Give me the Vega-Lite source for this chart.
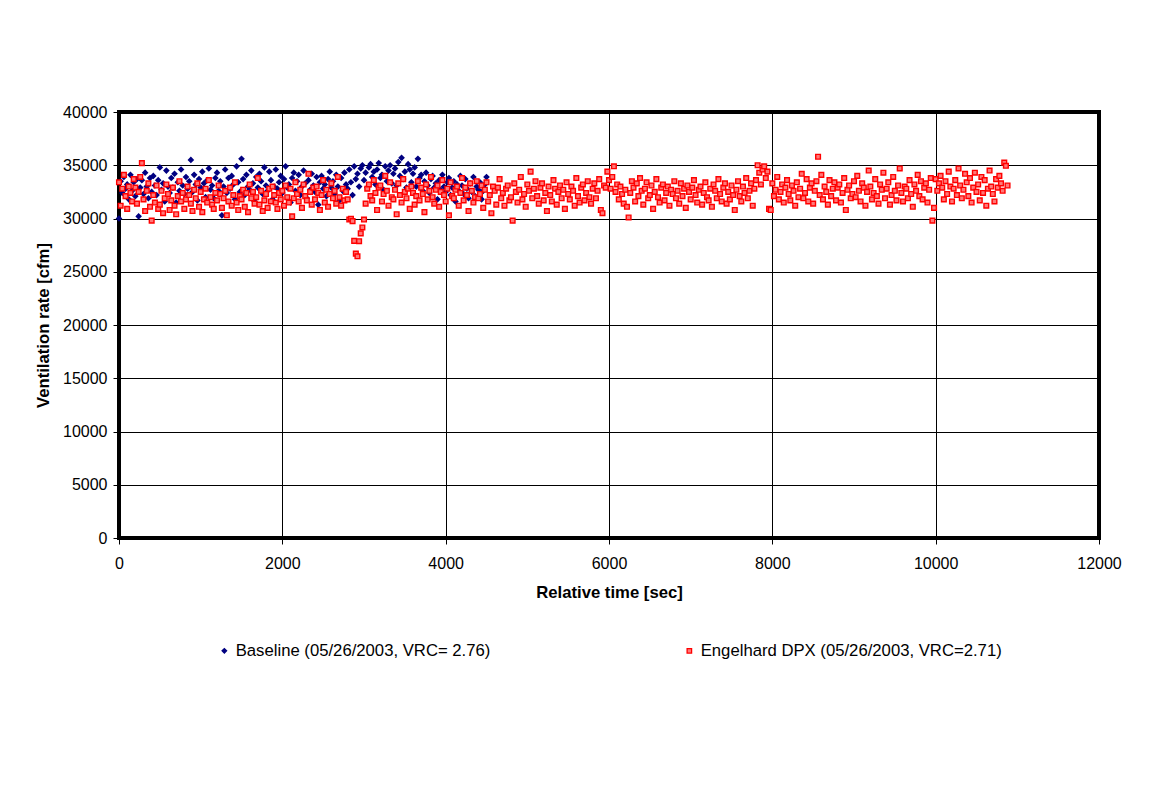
{
"$schema": "https://vega.github.io/schema/vega-lite/v6.json",
"width": 980,
"height": 426,
"autosize": {"type": "none"},
"padding": {"left": 119, "top": 112, "right": 55, "bottom": 252},
"background": "white",
"config": {
"font": "Liberation Sans",
"view": {"stroke": "black", "strokeWidth": 4},
"axis": {"labelFont": "Liberation Sans", "labelFontSize": 16, "labelColor": "black", "titleFont": "Liberation Sans", "titleFontSize": 16.7, "titleFontWeight": "bold", "titleColor": "black", "gridColor": "black", "gridWidth": 1, "gridOpacity": 1, "tickColor": "black", "tickWidth": 1, "tickSize": 6, "domain": false}
},
"data": {"values": [
{"s":"B","t":0,"v":30000},{"s":"B","t":20,"v":33500},{"s":"B","t":40,"v":32400},{"s":"B","t":60,"v":33900},{"s":"B","t":80,"v":32800},{"s":"B","t":100,"v":33200},{"s":"B","t":120,"v":31800},{"s":"B","t":140,"v":34100},{"s":"B","t":160,"v":32600},{"s":"B","t":180,"v":33400},
{"s":"B","t":200,"v":32100},{"s":"B","t":220,"v":33700},{"s":"B","t":240,"v":30200},{"s":"B","t":260,"v":32900},{"s":"B","t":280,"v":33600},{"s":"B","t":300,"v":32300},{"s":"B","t":320,"v":34300},{"s":"B","t":340,"v":33000},{"s":"B","t":360,"v":31900},{"s":"B","t":380,"v":33800},
{"s":"B","t":400,"v":32500},{"s":"B","t":420,"v":34000},{"s":"B","t":440,"v":33100},{"s":"B","t":460,"v":32200},{"s":"B","t":480,"v":33600},{"s":"B","t":500,"v":34800},{"s":"B","t":520,"v":32700},{"s":"B","t":540,"v":33300},{"s":"B","t":560,"v":31600},{"s":"B","t":580,"v":34500},
{"s":"B","t":600,"v":33000},{"s":"B","t":620,"v":32400},{"s":"B","t":640,"v":33800},{"s":"B","t":660,"v":32900},{"s":"B","t":680,"v":34200},{"s":"B","t":700,"v":31500},{"s":"B","t":720,"v":33400},{"s":"B","t":740,"v":32600},{"s":"B","t":760,"v":34600},{"s":"B","t":780,"v":33100},
{"s":"B","t":800,"v":32300},{"s":"B","t":820,"v":33900},{"s":"B","t":840,"v":32800},{"s":"B","t":860,"v":33500},{"s":"B","t":880,"v":35500},{"s":"B","t":900,"v":32500},{"s":"B","t":920,"v":34100},{"s":"B","t":940,"v":33200},{"s":"B","t":960,"v":31700},{"s":"B","t":980,"v":33700},
{"s":"B","t":1000,"v":32900},{"s":"B","t":1020,"v":34400},{"s":"B","t":1040,"v":33300},{"s":"B","t":1060,"v":32000},{"s":"B","t":1080,"v":33600},{"s":"B","t":1100,"v":34700},{"s":"B","t":1120,"v":32700},{"s":"B","t":1140,"v":33100},{"s":"B","t":1160,"v":31900},{"s":"B","t":1180,"v":33800},
{"s":"B","t":1200,"v":34300},{"s":"B","t":1220,"v":32600},{"s":"B","t":1240,"v":33500},{"s":"B","t":1260,"v":30300},{"s":"B","t":1280,"v":33000},{"s":"B","t":1300,"v":34600},{"s":"B","t":1320,"v":32400},{"s":"B","t":1340,"v":33800},{"s":"B","t":1360,"v":32800},{"s":"B","t":1380,"v":34000},
{"s":"B","t":1400,"v":33200},{"s":"B","t":1420,"v":31800},{"s":"B","t":1440,"v":34900},{"s":"B","t":1460,"v":33400},{"s":"B","t":1480,"v":32500},{"s":"B","t":1500,"v":35600},{"s":"B","t":1520,"v":33700},{"s":"B","t":1540,"v":32200},{"s":"B","t":1560,"v":34100},{"s":"B","t":1580,"v":33000},
{"s":"B","t":1600,"v":32700},{"s":"B","t":1620,"v":34500},{"s":"B","t":1640,"v":33300},{"s":"B","t":1660,"v":31600},{"s":"B","t":1680,"v":33900},{"s":"B","t":1700,"v":32900},{"s":"B","t":1720,"v":34200},{"s":"B","t":1740,"v":33500},{"s":"B","t":1760,"v":32300},{"s":"B","t":1780,"v":34800},
{"s":"B","t":1800,"v":33100},{"s":"B","t":1820,"v":32600},{"s":"B","t":1840,"v":34400},{"s":"B","t":1860,"v":33600},{"s":"B","t":1880,"v":31800},{"s":"B","t":1900,"v":33000},{"s":"B","t":1920,"v":34600},{"s":"B","t":1940,"v":32800},{"s":"B","t":1960,"v":33400},{"s":"B","t":1980,"v":34000},
{"s":"B","t":2000,"v":32400},{"s":"B","t":2020,"v":33700},{"s":"B","t":2040,"v":34900},{"s":"B","t":2060,"v":32900},{"s":"B","t":2080,"v":33200},{"s":"B","t":2100,"v":31500},{"s":"B","t":2120,"v":33800},{"s":"B","t":2140,"v":34300},{"s":"B","t":2160,"v":32600},{"s":"B","t":2180,"v":33500},
{"s":"B","t":2200,"v":34100},{"s":"B","t":2220,"v":32200},{"s":"B","t":2240,"v":33000},{"s":"B","t":2260,"v":34500},{"s":"B","t":2280,"v":33300},{"s":"B","t":2300,"v":31900},{"s":"B","t":2320,"v":33600},{"s":"B","t":2340,"v":32700},{"s":"B","t":2360,"v":34200},{"s":"B","t":2380,"v":33100},
{"s":"B","t":2400,"v":32500},{"s":"B","t":2420,"v":33900},{"s":"B","t":2440,"v":31300},{"s":"B","t":2460,"v":33400},{"s":"B","t":2480,"v":34000},{"s":"B","t":2500,"v":32800},{"s":"B","t":2520,"v":33200},{"s":"B","t":2540,"v":32100},{"s":"B","t":2560,"v":33700},{"s":"B","t":2580,"v":34400},
{"s":"B","t":2600,"v":32900},{"s":"B","t":2620,"v":33500},{"s":"B","t":2640,"v":32300},{"s":"B","t":2660,"v":34100},{"s":"B","t":2680,"v":33000},{"s":"B","t":2700,"v":31700},{"s":"B","t":2720,"v":33800},{"s":"B","t":2740,"v":32600},{"s":"B","t":2760,"v":34300},{"s":"B","t":2780,"v":33200},
{"s":"B","t":2800,"v":32800},{"s":"B","t":2820,"v":34600},{"s":"B","t":2840,"v":33400},{"s":"B","t":2860,"v":32200},{"s":"B","t":2880,"v":34900},{"s":"B","t":2900,"v":33700},{"s":"B","t":2920,"v":34200},{"s":"B","t":2940,"v":33000},{"s":"B","t":2960,"v":34700},{"s":"B","t":2980,"v":35000},
{"s":"B","t":3000,"v":33600},{"s":"B","t":3020,"v":34300},{"s":"B","t":3040,"v":32900},{"s":"B","t":3060,"v":34800},{"s":"B","t":3080,"v":35100},{"s":"B","t":3100,"v":33900},{"s":"B","t":3120,"v":34400},{"s":"B","t":3140,"v":33200},{"s":"B","t":3160,"v":34600},{"s":"B","t":3180,"v":35200},
{"s":"B","t":3200,"v":33800},{"s":"B","t":3220,"v":34100},{"s":"B","t":3240,"v":32700},{"s":"B","t":3260,"v":34900},{"s":"B","t":3280,"v":33500},{"s":"B","t":3300,"v":34500},{"s":"B","t":3320,"v":35000},{"s":"B","t":3340,"v":33300},{"s":"B","t":3360,"v":34200},{"s":"B","t":3380,"v":34700},
{"s":"B","t":3400,"v":33100},{"s":"B","t":3420,"v":35300},{"s":"B","t":3440,"v":34000},{"s":"B","t":3460,"v":35700},{"s":"B","t":3480,"v":33700},{"s":"B","t":3500,"v":34400},{"s":"B","t":3520,"v":32900},{"s":"B","t":3540,"v":35100},{"s":"B","t":3560,"v":34600},{"s":"B","t":3580,"v":33400},
{"s":"B","t":3600,"v":34200},{"s":"B","t":3620,"v":34800},{"s":"B","t":3640,"v":33000},{"s":"B","t":3660,"v":35600},{"s":"B","t":3680,"v":33800},{"s":"B","t":3700,"v":34100},{"s":"B","t":3720,"v":32600},{"s":"B","t":3740,"v":33500},{"s":"B","t":3760,"v":34300},{"s":"B","t":3780,"v":33100},
{"s":"B","t":3800,"v":32400},{"s":"B","t":3820,"v":33700},{"s":"B","t":3840,"v":34000},{"s":"B","t":3860,"v":32900},{"s":"B","t":3880,"v":33300},{"s":"B","t":3900,"v":31800},{"s":"B","t":3920,"v":33600},{"s":"B","t":3940,"v":32700},{"s":"B","t":3960,"v":34100},{"s":"B","t":3980,"v":33000},
{"s":"B","t":4000,"v":32500},{"s":"B","t":4020,"v":33400},{"s":"B","t":4040,"v":33800},{"s":"B","t":4060,"v":32200},{"s":"B","t":4080,"v":32900},{"s":"B","t":4100,"v":33500},{"s":"B","t":4120,"v":31600},{"s":"B","t":4140,"v":33200},{"s":"B","t":4160,"v":32600},{"s":"B","t":4180,"v":34000},
{"s":"B","t":4200,"v":33100},{"s":"B","t":4220,"v":32300},{"s":"B","t":4240,"v":33700},{"s":"B","t":4260,"v":32800},{"s":"B","t":4280,"v":31900},{"s":"B","t":4300,"v":33300},{"s":"B","t":4320,"v":32500},{"s":"B","t":4340,"v":33900},{"s":"B","t":4360,"v":32100},{"s":"B","t":4380,"v":33000},
{"s":"B","t":4400,"v":32700},{"s":"B","t":4420,"v":33400},{"s":"B","t":4440,"v":31800},{"s":"B","t":4460,"v":32600},{"s":"B","t":4480,"v":33200},{"s":"B","t":4500,"v":33900},
{"s":"E","t":0,"v":33400},{"s":"E","t":20,"v":31200},{"s":"E","t":40,"v":32800},{"s":"E","t":60,"v":34100},{"s":"E","t":80,"v":32100},{"s":"E","t":100,"v":30900},{"s":"E","t":120,"v":33000},{"s":"E","t":140,"v":32400},{"s":"E","t":160,"v":31600},{"s":"E","t":180,"v":33700},
{"s":"E","t":200,"v":32900},{"s":"E","t":220,"v":31400},{"s":"E","t":240,"v":32500},{"s":"E","t":260,"v":33900},{"s":"E","t":280,"v":35200},{"s":"E","t":300,"v":31800},{"s":"E","t":320,"v":30700},{"s":"E","t":340,"v":32600},{"s":"E","t":360,"v":33300},{"s":"E","t":380,"v":31100},
{"s":"E","t":400,"v":29800},{"s":"E","t":420,"v":32200},{"s":"E","t":440,"v":31500},{"s":"E","t":460,"v":33100},{"s":"E","t":480,"v":30900},{"s":"E","t":500,"v":31300},{"s":"E","t":520,"v":32600},{"s":"E","t":540,"v":30500},{"s":"E","t":560,"v":31900},{"s":"E","t":580,"v":33200},
{"s":"E","t":600,"v":32300},{"s":"E","t":620,"v":30800},{"s":"E","t":640,"v":31700},{"s":"E","t":660,"v":32900},{"s":"E","t":680,"v":31200},{"s":"E","t":700,"v":30400},{"s":"E","t":720,"v":32100},{"s":"E","t":740,"v":33500},{"s":"E","t":760,"v":31600},{"s":"E","t":780,"v":32400},
{"s":"E","t":800,"v":30900},{"s":"E","t":820,"v":31800},{"s":"E","t":840,"v":33000},{"s":"E","t":860,"v":32200},{"s":"E","t":880,"v":31400},{"s":"E","t":900,"v":30700},{"s":"E","t":920,"v":32700},{"s":"E","t":940,"v":31900},{"s":"E","t":960,"v":33300},{"s":"E","t":980,"v":31100},
{"s":"E","t":1000,"v":32500},{"s":"E","t":1020,"v":30600},{"s":"E","t":1040,"v":31800},{"s":"E","t":1060,"v":32800},{"s":"E","t":1080,"v":31500},{"s":"E","t":1100,"v":33600},{"s":"E","t":1120,"v":32000},{"s":"E","t":1140,"v":31300},{"s":"E","t":1160,"v":30900},{"s":"E","t":1180,"v":32400},
{"s":"E","t":1200,"v":31700},{"s":"E","t":1220,"v":33100},{"s":"E","t":1240,"v":32300},{"s":"E","t":1260,"v":31000},{"s":"E","t":1280,"v":31900},{"s":"E","t":1300,"v":32600},{"s":"E","t":1320,"v":30300},{"s":"E","t":1340,"v":31600},{"s":"E","t":1360,"v":32900},{"s":"E","t":1380,"v":31200},
{"s":"E","t":1400,"v":32200},{"s":"E","t":1420,"v":33400},{"s":"E","t":1440,"v":31500},{"s":"E","t":1460,"v":30800},{"s":"E","t":1480,"v":32100},{"s":"E","t":1500,"v":31800},{"s":"E","t":1520,"v":32700},{"s":"E","t":1540,"v":31100},{"s":"E","t":1560,"v":32400},{"s":"E","t":1580,"v":30600},
{"s":"E","t":1600,"v":33200},{"s":"E","t":1620,"v":31900},{"s":"E","t":1640,"v":32500},{"s":"E","t":1660,"v":31400},{"s":"E","t":1680,"v":32000},{"s":"E","t":1700,"v":33800},{"s":"E","t":1720,"v":31300},{"s":"E","t":1740,"v":32600},{"s":"E","t":1760,"v":30700},{"s":"E","t":1780,"v":31700},
{"s":"E","t":1800,"v":32300},{"s":"E","t":1820,"v":31000},{"s":"E","t":1840,"v":32800},{"s":"E","t":1860,"v":31600},{"s":"E","t":1880,"v":33000},{"s":"E","t":1900,"v":32200},{"s":"E","t":1920,"v":31500},{"s":"E","t":1940,"v":30900},{"s":"E","t":1960,"v":32400},{"s":"E","t":1980,"v":31800},
{"s":"E","t":2000,"v":32600},{"s":"E","t":2020,"v":31200},{"s":"E","t":2040,"v":33100},{"s":"E","t":2060,"v":32000},{"s":"E","t":2080,"v":31500},{"s":"E","t":2100,"v":32800},{"s":"E","t":2120,"v":30200},{"s":"E","t":2140,"v":31900},{"s":"E","t":2160,"v":33400},{"s":"E","t":2180,"v":32300},
{"s":"E","t":2200,"v":31600},{"s":"E","t":2220,"v":32700},{"s":"E","t":2240,"v":31000},{"s":"E","t":2260,"v":33200},{"s":"E","t":2280,"v":32100},{"s":"E","t":2300,"v":31700},{"s":"E","t":2320,"v":34200},{"s":"E","t":2340,"v":32500},{"s":"E","t":2360,"v":31300},{"s":"E","t":2380,"v":32900},
{"s":"E","t":2400,"v":31800},{"s":"E","t":2420,"v":33000},{"s":"E","t":2440,"v":32400},{"s":"E","t":2460,"v":30800},{"s":"E","t":2480,"v":32200},{"s":"E","t":2500,"v":33600},{"s":"E","t":2520,"v":31500},{"s":"E","t":2540,"v":32700},{"s":"E","t":2560,"v":31100},{"s":"E","t":2580,"v":32300},
{"s":"E","t":2600,"v":33300},{"s":"E","t":2620,"v":31900},{"s":"E","t":2640,"v":32600},{"s":"E","t":2660,"v":31400},{"s":"E","t":2680,"v":33900},{"s":"E","t":2700,"v":32000},{"s":"E","t":2720,"v":31200},{"s":"E","t":2740,"v":32800},{"s":"E","t":2760,"v":31700},{"s":"E","t":2780,"v":32500},
{"s":"E","t":2800,"v":31800},{"s":"E","t":2820,"v":29900},{"s":"E","t":2840,"v":29970},{"s":"E","t":2860,"v":29750},{"s":"E","t":2880,"v":27900},{"s":"E","t":2900,"v":26700},{"s":"E","t":2920,"v":26450},{"s":"E","t":2940,"v":27870},{"s":"E","t":2960,"v":28600},{"s":"E","t":2980,"v":29160},
{"s":"E","t":3000,"v":29900},{"s":"E","t":3020,"v":31400},{"s":"E","t":3040,"v":32800},{"s":"E","t":3060,"v":33200},{"s":"E","t":3080,"v":32100},{"s":"E","t":3100,"v":31700},{"s":"E","t":3120,"v":33600},{"s":"E","t":3140,"v":32400},{"s":"E","t":3160,"v":30800},{"s":"E","t":3180,"v":32900},
{"s":"E","t":3200,"v":33100},{"s":"E","t":3220,"v":31600},{"s":"E","t":3240,"v":32300},{"s":"E","t":3260,"v":34000},{"s":"E","t":3280,"v":32600},{"s":"E","t":3300,"v":31200},{"s":"E","t":3320,"v":33400},{"s":"E","t":3340,"v":32000},{"s":"E","t":3360,"v":31800},{"s":"E","t":3380,"v":32700},
{"s":"E","t":3400,"v":30400},{"s":"E","t":3420,"v":33300},{"s":"E","t":3440,"v":32200},{"s":"E","t":3460,"v":31500},{"s":"E","t":3480,"v":33700},{"s":"E","t":3500,"v":32500},{"s":"E","t":3520,"v":31900},{"s":"E","t":3540,"v":32800},{"s":"E","t":3560,"v":30900},{"s":"E","t":3580,"v":33000},
{"s":"E","t":3600,"v":32400},{"s":"E","t":3620,"v":31300},{"s":"E","t":3640,"v":32100},{"s":"E","t":3660,"v":33500},{"s":"E","t":3680,"v":31700},{"s":"E","t":3700,"v":32900},{"s":"E","t":3720,"v":32300},{"s":"E","t":3740,"v":30600},{"s":"E","t":3760,"v":33200},{"s":"E","t":3780,"v":31800},
{"s":"E","t":3800,"v":32600},{"s":"E","t":3820,"v":33900},{"s":"E","t":3840,"v":32000},{"s":"E","t":3860,"v":31400},{"s":"E","t":3880,"v":32700},{"s":"E","t":3900,"v":33100},{"s":"E","t":3920,"v":31100},{"s":"E","t":3940,"v":32500},{"s":"E","t":3960,"v":33600},{"s":"E","t":3980,"v":32200},
{"s":"E","t":4000,"v":31600},{"s":"E","t":4020,"v":32800},{"s":"E","t":4040,"v":30300},{"s":"E","t":4060,"v":33400},{"s":"E","t":4080,"v":32100},{"s":"E","t":4100,"v":31900},{"s":"E","t":4120,"v":32700},{"s":"E","t":4140,"v":33000},{"s":"E","t":4160,"v":31200},{"s":"E","t":4180,"v":32400},
{"s":"E","t":4200,"v":33800},{"s":"E","t":4220,"v":31700},{"s":"E","t":4240,"v":32900},{"s":"E","t":4260,"v":32200},{"s":"E","t":4280,"v":30700},{"s":"E","t":4300,"v":33300},{"s":"E","t":4320,"v":32600},{"s":"E","t":4340,"v":31500},{"s":"E","t":4360,"v":32000},{"s":"E","t":4380,"v":33500},
{"s":"E","t":4400,"v":31900},{"s":"E","t":4420,"v":32300},{"s":"E","t":4440,"v":33100},{"s":"E","t":4460,"v":31000},{"s":"E","t":4480,"v":32700},{"s":"E","t":4500,"v":33400},{"s":"E","t":4520,"v":31600},{"s":"E","t":4540,"v":32200},{"s":"E","t":4560,"v":30500},{"s":"E","t":4580,"v":33000},
{"s":"E","t":4600,"v":32600},{"s":"E","t":4620,"v":31300},{"s":"E","t":4640,"v":32900},{"s":"E","t":4660,"v":33700},{"s":"E","t":4680,"v":31900},{"s":"E","t":4700,"v":32400},{"s":"E","t":4720,"v":31200},{"s":"E","t":4740,"v":32800},{"s":"E","t":4760,"v":33100},{"s":"E","t":4780,"v":31700},
{"s":"E","t":4800,"v":32000},{"s":"E","t":4820,"v":29800},{"s":"E","t":4840,"v":33300},{"s":"E","t":4860,"v":32500},{"s":"E","t":4880,"v":31500},{"s":"E","t":4900,"v":32700},{"s":"E","t":4920,"v":33900},{"s":"E","t":4940,"v":31800},{"s":"E","t":4960,"v":32300},{"s":"E","t":4980,"v":31100},
{"s":"E","t":5000,"v":33200},{"s":"E","t":5020,"v":32600},{"s":"E","t":5040,"v":34400},{"s":"E","t":5060,"v":31900},{"s":"E","t":5080,"v":32800},{"s":"E","t":5100,"v":33500},{"s":"E","t":5120,"v":32100},{"s":"E","t":5140,"v":31400},{"s":"E","t":5160,"v":32900},{"s":"E","t":5180,"v":33300},
{"s":"E","t":5200,"v":31700},{"s":"E","t":5220,"v":32400},{"s":"E","t":5240,"v":30700},{"s":"E","t":5260,"v":33000},{"s":"E","t":5280,"v":32200},{"s":"E","t":5300,"v":31600},{"s":"E","t":5320,"v":33600},{"s":"E","t":5340,"v":32800},{"s":"E","t":5360,"v":31300},{"s":"E","t":5380,"v":32500},
{"s":"E","t":5400,"v":33100},{"s":"E","t":5420,"v":31900},{"s":"E","t":5440,"v":32700},{"s":"E","t":5460,"v":30900},{"s":"E","t":5480,"v":33400},{"s":"E","t":5500,"v":32300},{"s":"E","t":5520,"v":31800},{"s":"E","t":5540,"v":33000},{"s":"E","t":5560,"v":32600},{"s":"E","t":5580,"v":31200},
{"s":"E","t":5600,"v":33800},{"s":"E","t":5620,"v":32100},{"s":"E","t":5640,"v":31500},{"s":"E","t":5660,"v":32900},{"s":"E","t":5680,"v":33200},{"s":"E","t":5700,"v":31700},{"s":"E","t":5720,"v":32400},{"s":"E","t":5740,"v":33500},{"s":"E","t":5760,"v":32000},{"s":"E","t":5780,"v":31400},
{"s":"E","t":5800,"v":32800},{"s":"E","t":5820,"v":33300},{"s":"E","t":5840,"v":31900},{"s":"E","t":5860,"v":32600},{"s":"E","t":5880,"v":33700},{"s":"E","t":5900,"v":30800},{"s":"E","t":5920,"v":30500},{"s":"E","t":5940,"v":33100},{"s":"E","t":5960,"v":32900},{"s":"E","t":5980,"v":34400},
{"s":"E","t":6000,"v":33600},{"s":"E","t":6020,"v":32800},{"s":"E","t":6040,"v":33900},{"s":"E","t":6060,"v":34900},{"s":"E","t":6080,"v":32500},{"s":"E","t":6100,"v":33200},{"s":"E","t":6120,"v":31800},{"s":"E","t":6140,"v":33000},{"s":"E","t":6160,"v":32300},{"s":"E","t":6180,"v":31400},
{"s":"E","t":6200,"v":32700},{"s":"E","t":6220,"v":31100},{"s":"E","t":6240,"v":30100},{"s":"E","t":6260,"v":32400},{"s":"E","t":6280,"v":33500},{"s":"E","t":6300,"v":32900},{"s":"E","t":6320,"v":31600},{"s":"E","t":6340,"v":33300},{"s":"E","t":6360,"v":32100},{"s":"E","t":6380,"v":33800},
{"s":"E","t":6400,"v":32600},{"s":"E","t":6420,"v":31300},{"s":"E","t":6440,"v":32800},{"s":"E","t":6460,"v":33400},{"s":"E","t":6480,"v":31900},{"s":"E","t":6500,"v":32200},{"s":"E","t":6520,"v":33100},{"s":"E","t":6540,"v":30900},{"s":"E","t":6560,"v":32500},{"s":"E","t":6580,"v":33700},
{"s":"E","t":6600,"v":32000},{"s":"E","t":6620,"v":31500},{"s":"E","t":6640,"v":32900},{"s":"E","t":6660,"v":33200},{"s":"E","t":6680,"v":31700},{"s":"E","t":6700,"v":32400},{"s":"E","t":6720,"v":33000},{"s":"E","t":6740,"v":31200},{"s":"E","t":6760,"v":32700},{"s":"E","t":6780,"v":32300},
{"s":"E","t":6800,"v":33500},{"s":"E","t":6820,"v":31900},{"s":"E","t":6840,"v":32600},{"s":"E","t":6860,"v":31400},{"s":"E","t":6880,"v":33300},{"s":"E","t":6900,"v":32100},{"s":"E","t":6920,"v":32800},{"s":"E","t":6940,"v":31000},{"s":"E","t":6960,"v":33100},{"s":"E","t":6980,"v":32500},
{"s":"E","t":7000,"v":31800},{"s":"E","t":7020,"v":32900},{"s":"E","t":7040,"v":33600},{"s":"E","t":7060,"v":32200},{"s":"E","t":7080,"v":31500},{"s":"E","t":7100,"v":32700},{"s":"E","t":7120,"v":33000},{"s":"E","t":7140,"v":31300},{"s":"E","t":7160,"v":32400},{"s":"E","t":7180,"v":33400},
{"s":"E","t":7200,"v":32000},{"s":"E","t":7220,"v":31700},{"s":"E","t":7240,"v":32800},{"s":"E","t":7260,"v":31100},{"s":"E","t":7280,"v":33200},{"s":"E","t":7300,"v":32600},{"s":"E","t":7320,"v":31900},{"s":"E","t":7340,"v":33700},{"s":"E","t":7360,"v":32300},{"s":"E","t":7380,"v":31600},
{"s":"E","t":7400,"v":32900},{"s":"E","t":7420,"v":33300},{"s":"E","t":7440,"v":31400},{"s":"E","t":7460,"v":32500},{"s":"E","t":7480,"v":31800},{"s":"E","t":7500,"v":33100},{"s":"E","t":7520,"v":32200},{"s":"E","t":7540,"v":30800},{"s":"E","t":7560,"v":32700},{"s":"E","t":7580,"v":33500},
{"s":"E","t":7600,"v":32100},{"s":"E","t":7620,"v":31600},{"s":"E","t":7640,"v":33000},{"s":"E","t":7660,"v":32400},{"s":"E","t":7680,"v":33800},{"s":"E","t":7700,"v":31900},{"s":"E","t":7720,"v":32600},{"s":"E","t":7740,"v":33300},{"s":"E","t":7760,"v":31200},{"s":"E","t":7780,"v":32800},
{"s":"E","t":7800,"v":33600},{"s":"E","t":7820,"v":35000},{"s":"E","t":7840,"v":34300},{"s":"E","t":7860,"v":33200},{"s":"E","t":7880,"v":34600},{"s":"E","t":7900,"v":34900},{"s":"E","t":7920,"v":33800},{"s":"E","t":7940,"v":34400},{"s":"E","t":7960,"v":30900},{"s":"E","t":7980,"v":30800},
{"s":"E","t":8000,"v":33300},{"s":"E","t":8020,"v":32100},{"s":"E","t":8040,"v":32700},{"s":"E","t":8060,"v":33900},{"s":"E","t":8080,"v":31800},{"s":"E","t":8100,"v":32500},{"s":"E","t":8120,"v":33200},{"s":"E","t":8140,"v":31500},{"s":"E","t":8160,"v":32900},{"s":"E","t":8180,"v":33600},
{"s":"E","t":8200,"v":32300},{"s":"E","t":8220,"v":31700},{"s":"E","t":8240,"v":33100},{"s":"E","t":8260,"v":32600},{"s":"E","t":8280,"v":31200},{"s":"E","t":8300,"v":33400},{"s":"E","t":8320,"v":32000},{"s":"E","t":8340,"v":32800},{"s":"E","t":8360,"v":34200},{"s":"E","t":8380,"v":31900},
{"s":"E","t":8400,"v":32400},{"s":"E","t":8420,"v":33700},{"s":"E","t":8440,"v":31600},{"s":"E","t":8460,"v":32900},{"s":"E","t":8480,"v":33300},{"s":"E","t":8500,"v":31400},{"s":"E","t":8520,"v":32600},{"s":"E","t":8540,"v":33500},{"s":"E","t":8560,"v":35800},{"s":"E","t":8580,"v":32200},
{"s":"E","t":8600,"v":34100},{"s":"E","t":8620,"v":31800},{"s":"E","t":8640,"v":33000},{"s":"E","t":8660,"v":32500},{"s":"E","t":8680,"v":31300},{"s":"E","t":8700,"v":33600},{"s":"E","t":8720,"v":32100},{"s":"E","t":8740,"v":32800},{"s":"E","t":8760,"v":33400},{"s":"E","t":8780,"v":31700},
{"s":"E","t":8800,"v":32900},{"s":"E","t":8820,"v":33200},{"s":"E","t":8840,"v":31500},{"s":"E","t":8860,"v":32400},{"s":"E","t":8880,"v":33800},{"s":"E","t":8900,"v":30800},{"s":"E","t":8920,"v":32700},{"s":"E","t":8940,"v":33100},{"s":"E","t":8960,"v":31900},{"s":"E","t":8980,"v":32300},
{"s":"E","t":9000,"v":33500},{"s":"E","t":9020,"v":32000},{"s":"E","t":9040,"v":34000},{"s":"E","t":9060,"v":32600},{"s":"E","t":9080,"v":31600},{"s":"E","t":9100,"v":33300},{"s":"E","t":9120,"v":32900},{"s":"E","t":9140,"v":31200},{"s":"E","t":9160,"v":32500},{"s":"E","t":9180,"v":34500},
{"s":"E","t":9200,"v":33000},{"s":"E","t":9220,"v":31800},{"s":"E","t":9240,"v":32400},{"s":"E","t":9260,"v":33700},{"s":"E","t":9280,"v":32100},{"s":"E","t":9300,"v":31400},{"s":"E","t":9320,"v":33200},{"s":"E","t":9340,"v":32700},{"s":"E","t":9360,"v":34300},{"s":"E","t":9380,"v":31900},
{"s":"E","t":9400,"v":32800},{"s":"E","t":9420,"v":33400},{"s":"E","t":9440,"v":31300},{"s":"E","t":9460,"v":32200},{"s":"E","t":9480,"v":33900},{"s":"E","t":9500,"v":32600},{"s":"E","t":9520,"v":31700},{"s":"E","t":9540,"v":33100},{"s":"E","t":9560,"v":34700},{"s":"E","t":9580,"v":32400},
{"s":"E","t":9600,"v":31600},{"s":"E","t":9620,"v":33000},{"s":"E","t":9640,"v":32800},{"s":"E","t":9660,"v":31900},{"s":"E","t":9680,"v":33600},{"s":"E","t":9700,"v":32300},{"s":"E","t":9720,"v":31100},{"s":"E","t":9740,"v":33200},{"s":"E","t":9760,"v":32600},{"s":"E","t":9780,"v":34100},
{"s":"E","t":9800,"v":32100},{"s":"E","t":9820,"v":33500},{"s":"E","t":9840,"v":31800},{"s":"E","t":9860,"v":32900},{"s":"E","t":9880,"v":33300},{"s":"E","t":9900,"v":31500},{"s":"E","t":9920,"v":32700},{"s":"E","t":9940,"v":33800},{"s":"E","t":9960,"v":29800},{"s":"E","t":9980,"v":31000},
{"s":"E","t":10000,"v":33700},{"s":"E","t":10020,"v":32600},{"s":"E","t":10040,"v":33300},{"s":"E","t":10060,"v":34000},{"s":"E","t":10080,"v":32900},{"s":"E","t":10100,"v":31800},{"s":"E","t":10120,"v":33500},{"s":"E","t":10140,"v":32300},{"s":"E","t":10160,"v":34400},{"s":"E","t":10180,"v":33000},
{"s":"E","t":10200,"v":31600},{"s":"E","t":10220,"v":32800},{"s":"E","t":10240,"v":33600},{"s":"E","t":10260,"v":32200},{"s":"E","t":10280,"v":34700},{"s":"E","t":10300,"v":33100},{"s":"E","t":10320,"v":31900},{"s":"E","t":10340,"v":32700},{"s":"E","t":10360,"v":34200},{"s":"E","t":10380,"v":33400},
{"s":"E","t":10400,"v":32100},{"s":"E","t":10420,"v":33800},{"s":"E","t":10440,"v":31500},{"s":"E","t":10460,"v":32900},{"s":"E","t":10480,"v":34300},{"s":"E","t":10500,"v":32500},{"s":"E","t":10520,"v":33200},{"s":"E","t":10540,"v":31700},{"s":"E","t":10560,"v":33900},{"s":"E","t":10580,"v":32400},
{"s":"E","t":10600,"v":33600},{"s":"E","t":10620,"v":31200},{"s":"E","t":10640,"v":32800},{"s":"E","t":10660,"v":34500},{"s":"E","t":10680,"v":33000},{"s":"E","t":10700,"v":32300},{"s":"E","t":10720,"v":31600},{"s":"E","t":10740,"v":33700},{"s":"E","t":10760,"v":32900},{"s":"E","t":10780,"v":34000},
{"s":"E","t":10800,"v":33300},{"s":"E","t":10820,"v":32600},{"s":"E","t":10840,"v":35250},{"s":"E","t":10860,"v":34950},{"s":"E","t":10880,"v":33100}
]},
"mark": {"type": "point", "filled": true, "size": 22, "strokeWidth": 1.4, "opacity": 1},
"encoding": {
"x": {"field": "t", "type": "quantitative", "scale": {"domain": [0, 12000], "nice": false}, "axis": {"values": [0, 2000, 4000, 6000, 8000, 10000, 12000], "format": "d", "title": "Relative time [sec]", "labelPadding": 11, "labelFlush": false, "titleY": 59, "titleBaseline": "alphabetic"}},
"y": {"field": "v", "type": "quantitative", "scale": {"domain": [0, 40000], "nice": false}, "axis": {"values": [0, 5000, 10000, 15000, 20000, 25000, 30000, 35000, 40000], "format": "d", "title": "Ventilation rate [cfm]", "labelPadding": 6, "labelFlush": false, "titleX": -71, "titleY": 213, "titleBaseline": "alphabetic"}},
"fill": {"field": "s", "type": "nominal", "scale": {"domain": ["B", "E"], "range": ["#000080", "#ff7878"]}, "legend": {"title": null, "orient": "none", "legendX": 97, "legendY": 530, "direction": "horizontal", "columns": 2, "columnPadding": 190, "padding": 0, "labelFont": "Liberation Sans", "labelFontSize": 16.7, "labelColor": "black", "labelOffset": 3, "labelLimit": 500, "symbolSize": 20, "symbolStrokeWidth": 1.3, "labelExpr": "datum.value == 'B' ? 'Baseline (05/26/2003, VRC= 2.76)' : 'Engelhard DPX (05/26/2003, VRC=2.71)'"}},
"stroke": {"field": "s", "type": "nominal", "scale": {"domain": ["B", "E"], "range": ["#000080", "#ff0000"]}, "legend": {"title": null, "orient": "none", "legendX": 97, "legendY": 530, "direction": "horizontal", "columns": 2, "columnPadding": 190, "padding": 0, "labelFont": "Liberation Sans", "labelFontSize": 16.7, "labelColor": "black", "labelOffset": 3, "labelLimit": 500, "symbolSize": 20, "symbolStrokeWidth": 1.3, "labelExpr": "datum.value == 'B' ? 'Baseline (05/26/2003, VRC= 2.76)' : 'Engelhard DPX (05/26/2003, VRC=2.71)'"}},
"shape": {"field": "s", "type": "nominal", "scale": {"domain": ["B", "E"], "range": ["diamond", "square"]}, "legend": {"title": null, "orient": "none", "legendX": 97, "legendY": 530, "direction": "horizontal", "columns": 2, "columnPadding": 190, "padding": 0, "labelFont": "Liberation Sans", "labelFontSize": 16.7, "labelColor": "black", "labelOffset": 3, "labelLimit": 500, "symbolSize": 20, "symbolStrokeWidth": 1.3, "labelExpr": "datum.value == 'B' ? 'Baseline (05/26/2003, VRC= 2.76)' : 'Engelhard DPX (05/26/2003, VRC=2.71)'"}}
}
}
